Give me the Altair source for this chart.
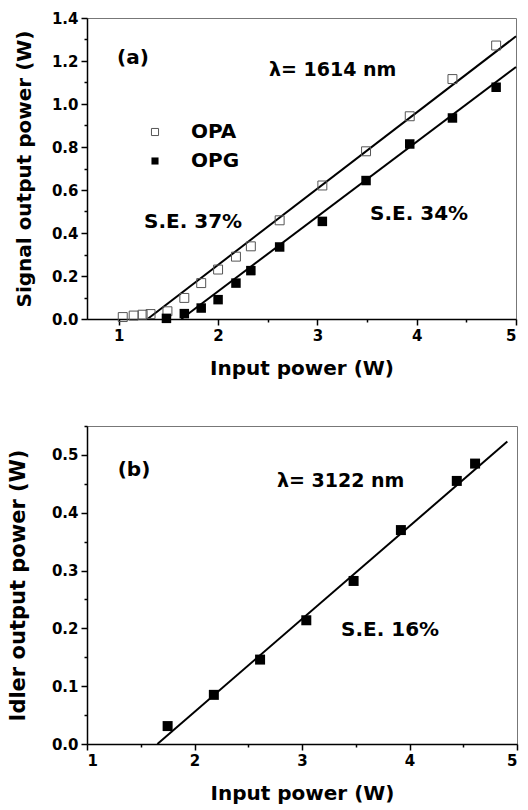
import altair as alt
import pandas as pd

FONT = "DejaVu Sans"

# ---- panel (a) data ----
opa_x = [1.04, 1.15, 1.24, 1.32, 1.49, 1.66, 1.83, 2.00, 2.18, 2.33, 2.62, 3.05, 3.49, 3.93, 4.36, 4.80]
opa_y = [0.009, 0.016, 0.020, 0.023, 0.036, 0.098, 0.167, 0.230, 0.290, 0.338, 0.459, 0.621, 0.780, 0.943, 1.116, 1.272]
opg_x = [1.48, 1.66, 1.83, 2.00, 2.18, 2.33, 2.62, 3.05, 3.49, 3.93, 4.36, 4.80]
opg_y = [0.003, 0.025, 0.051, 0.090, 0.167, 0.225, 0.335, 0.454, 0.644, 0.814, 0.935, 1.078]
fit_opa_x = [1.29, 5.0]
fit_opa_y = [0.0, 1.315]
fit_opg_x = [1.63, 5.0]
fit_opg_y = [0.0, 1.172]

# ---- panel (b) data ----
idler_x = [1.75, 2.18, 2.61, 3.04, 3.48, 3.92, 4.44, 4.61]
idler_y = [0.031, 0.085, 0.146, 0.214, 0.282, 0.370, 0.455, 0.485]
fit_idler_x = [1.655, 4.91]
fit_idler_y = [0.0, 0.523]

# ---- ticks ----
xa_ticks = [1, 1.5, 2, 2.5, 3, 3.5, 4, 4.5, 5]
ya_ticks = [0, 0.1, 0.2, 0.3, 0.4, 0.5, 0.6, 0.7, 0.8, 0.9, 1.0, 1.1, 1.2, 1.3, 1.4]
xb_ticks = [1, 1.5, 2, 2.5, 3, 3.5, 4, 4.5, 5]
yb_ticks = [0, 0.05, 0.1, 0.15, 0.2, 0.25, 0.3, 0.35, 0.4, 0.45, 0.5, 0.55]

X_TITLE = "Input power (W)"
YA_TITLE = "Signal output power (W)"
YB_TITLE = "Idler output power (W)"


def x_axis(values):
    return alt.Axis(
        values=values,
        title=X_TITLE,
        labelExpr="datum.value % 1 == 0 ? format(datum.value, 'd') : ''",
        tickSize={"condition": {"test": "datum.value % 1 == 0", "value": 6}, "value": 3},
        labelPadding=3,
        titlePadding=15,
    )


def y_axis(values, title, step, title_size, title_pad):
    test = f"abs(round(datum.value / {step}) % 2) == 0"
    return alt.Axis(
        values=values,
        title=title,
        labelExpr=f"{test} ? format(datum.value, '.1f') : ''",
        tickSize={"condition": {"test": test, "value": 6}, "value": 3},
        labelPadding=3,
        titlePadding=title_pad,
        titleFontSize=title_size,
    )


def txt(text, x, y, size, align="left"):
    return alt.Chart(pd.DataFrame({"t": [text]})).mark_text(
        font=FONT, fontWeight="bold", fontSize=size, align=align,
        baseline="middle", color="black"
    ).encode(x=alt.value(x), y=alt.value(y), text="t:N")


# ---- panel (a) ----
xs_a = alt.Scale(domain=[0.68, 5], nice=False, zero=False)
ys_a = alt.Scale(domain=[0, 1.4], nice=False, zero=False)

df_opa = pd.DataFrame({"x": opa_x, "y": opa_y})
df_opg = pd.DataFrame({"x": opg_x, "y": opg_y})
df_fa = pd.DataFrame({"x": fit_opa_x, "y": fit_opa_y})
df_fg = pd.DataFrame({"x": fit_opg_x, "y": fit_opg_y})

enc_x_a = alt.X("x:Q", scale=xs_a, axis=x_axis(xa_ticks))
enc_y_a = alt.Y("y:Q", scale=ys_a, axis=y_axis(ya_ticks, YA_TITLE, 0.1, 20, 17))

line_a1 = alt.Chart(df_fa).mark_line(color="black", strokeWidth=2).encode(x=enc_x_a, y=enc_y_a)
line_a2 = alt.Chart(df_fg).mark_line(color="black", strokeWidth=2).encode(x=enc_x_a, y=enc_y_a)
pts_opa = alt.Chart(df_opa).mark_point(
    shape="square", filled=False, size=80, color="#555", strokeWidth=1, opacity=1
).encode(x=enc_x_a, y=enc_y_a)
pts_opg = alt.Chart(df_opg).mark_point(
    shape="square", filled=True, size=90, color="black", opacity=1
).encode(x=enc_x_a, y=enc_y_a)

leg_open = alt.Chart(pd.DataFrame({"t": ["OPA"]})).mark_point(
    shape="square", filled=False, size=50, color="#555", strokeWidth=1, opacity=1
).encode(x=alt.value(68), y=alt.value(114))
leg_fill = alt.Chart(pd.DataFrame({"t": ["OPG"]})).mark_point(
    shape="square", filled=True, size=50, color="black", opacity=1
).encode(x=alt.value(68), y=alt.value(143))

panel_a = alt.layer(
    line_a1, line_a2, pts_opa, pts_opg, leg_open, leg_fill,
    txt("(a)", 46, 40, 20, "center"),
    txt("λ= 1614 nm", 182, 52, 19),
    txt("OPA", 104, 114, 20),
    txt("OPG", 104, 143, 20),
    txt("S.E. 37%", 57, 204, 20),
    txt("S.E. 34%", 283, 196, 20),
).properties(width=429, height=301)

# ---- panel (b) ----
xs_b = alt.Scale(domain=[1, 5], nice=False, zero=False)
ys_b = alt.Scale(domain=[0, 0.55], nice=False, zero=False)

df_id = pd.DataFrame({"x": idler_x, "y": idler_y})
df_fi = pd.DataFrame({"x": fit_idler_x, "y": fit_idler_y})

enc_x_b = alt.X("x:Q", scale=xs_b, axis=x_axis(xb_ticks))
enc_y_b = alt.Y("y:Q", scale=ys_b, axis=y_axis(yb_ticks, YB_TITLE, 0.05, 21, 23))

line_b = alt.Chart(df_fi).mark_line(color="black", strokeWidth=2).encode(x=enc_x_b, y=enc_y_b)
pts_b = alt.Chart(df_id).mark_point(
    shape="square", filled=True, size=100, color="black", opacity=1
).encode(x=enc_x_b, y=enc_y_b)

panel_b = alt.layer(
    line_b, pts_b,
    txt("(b)", 47, 44, 20, "center"),
    txt("λ= 3122 nm", 190, 55, 19),
    txt("S.E. 16%", 254, 204, 20),
).properties(width=430, height=318)

chart = alt.vconcat(panel_a, panel_b, spacing=107, bounds="flush").properties(
    padding={"left": 6, "top": 10, "right": 6, "bottom": 5},
    background="white",
).configure_view(
    stroke="#777", strokeWidth=1
).configure_axis(
    grid=False,
    domainColor="black", domainWidth=1.5,
    tickColor="black", tickWidth=1.5,
    labelFont=FONT, labelFontWeight="bold", labelFontSize=15, labelColor="black",
    titleFont=FONT, titleFontWeight="bold", titleFontSize=20, titleColor="black",
)

chart.save("out.html", embed_options={"renderer": "svg", "actions": False})
